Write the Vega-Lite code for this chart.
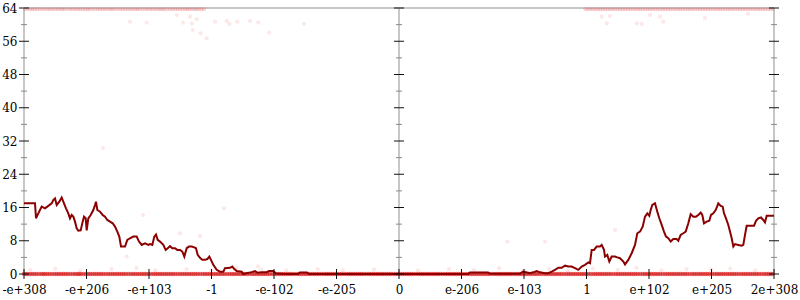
{
"$schema":"https://vega.github.io/schema/vega-lite/v6.json",
"width":750,"height":266,
"autosize":{"type":"none"},
"padding":{"left":24,"top":8,"right":26,"bottom":26},
"background":"white",
"config":{"view":{"stroke":null}},
"datasets":{
"err":[{"x":-6,"y":17},{"x":-5.824,"y":17},{"x":-5.808,"y":13.4},{"x":-5.771,"y":14.6},{"x":-5.717,"y":16.2},{"x":-5.664,"y":15.8},{"x":-5.611,"y":16.4},{"x":-5.557,"y":17},{"x":-5.531,"y":17.8},{"x":-5.504,"y":18.2},{"x":-5.477,"y":16.6},{"x":-5.435,"y":17.4},{"x":-5.397,"y":18.4},{"x":-5.371,"y":17.4},{"x":-5.328,"y":15.8},{"x":-5.291,"y":14.6},{"x":-5.264,"y":13.4},{"x":-5.237,"y":14.2},{"x":-5.211,"y":13.8},{"x":-5.184,"y":12.6},{"x":-5.157,"y":11},{"x":-5.131,"y":10.4},{"x":-5.093,"y":10.5},{"x":-5.061,"y":12.6},{"x":-5.04,"y":13.8},{"x":-5.013,"y":13.4},{"x":-4.997,"y":10.5},{"x":-4.971,"y":13.4},{"x":-4.933,"y":14.2},{"x":-4.891,"y":15.4},{"x":-4.864,"y":16.6},{"x":-4.848,"y":17.4},{"x":-4.827,"y":15.4},{"x":-4.784,"y":15},{"x":-4.741,"y":14.2},{"x":-4.704,"y":13.8},{"x":-4.667,"y":13},{"x":-4.624,"y":12.6},{"x":-4.581,"y":12.2},{"x":-4.544,"y":11.4},{"x":-4.507,"y":10.2},{"x":-4.475,"y":9},{"x":-4.448,"y":6.6},{"x":-4.384,"y":6.6},{"x":-4.347,"y":8.2},{"x":-4.304,"y":8.6},{"x":-4.251,"y":9},{"x":-4.197,"y":9},{"x":-4.16,"y":7.8},{"x":-4.117,"y":7},{"x":-4.064,"y":7.4},{"x":-4.011,"y":7},{"x":-3.984,"y":7.2},{"x":-3.947,"y":7},{"x":-3.915,"y":9},{"x":-3.888,"y":9.5},{"x":-3.861,"y":8.2},{"x":-3.824,"y":7.8},{"x":-3.771,"y":7},{"x":-3.733,"y":5.8},{"x":-3.701,"y":6.2},{"x":-3.664,"y":6.7},{"x":-3.627,"y":6.2},{"x":-3.584,"y":6.2},{"x":-3.547,"y":5.8},{"x":-3.504,"y":5.8},{"x":-3.467,"y":5.4},{"x":-3.435,"y":4.2},{"x":-3.397,"y":6.2},{"x":-3.36,"y":6.6},{"x":-3.317,"y":6.6},{"x":-3.275,"y":6.4},{"x":-3.248,"y":6.2},{"x":-3.221,"y":4.6},{"x":-3.184,"y":3.9},{"x":-3.147,"y":3.4},{"x":-3.104,"y":3.4},{"x":-3.067,"y":3.6},{"x":-3.035,"y":4.2},{"x":-3.008,"y":3.4},{"x":-2.971,"y":2.2},{"x":-2.917,"y":1},{"x":-2.864,"y":0.55},{"x":-2.811,"y":0.55},{"x":-2.784,"y":1.4},{"x":-2.704,"y":1.5},{"x":-2.667,"y":1.8},{"x":-2.635,"y":1.2},{"x":-2.597,"y":0.7},{"x":-2.517,"y":0.55},{"x":-2.491,"y":0},{"x":-2.437,"y":0.2},{"x":-2.357,"y":0.45},{"x":-2.304,"y":0.7},{"x":-2.261,"y":0.3},{"x":-2.197,"y":0.45},{"x":-2.117,"y":0.45},{"x":-2.08,"y":0.7},{"x":-2.011,"y":0.7},{"x":-1.968,"y":0.1},{"x":-1.824,"y":0},{"x":-1.616,"y":0},{"x":-1.584,"y":0.35},{"x":-1.472,"y":0.35},{"x":-1.44,"y":0},{"x":0.016,"y":0},{"x":1.104,"y":0},{"x":1.136,"y":0.35},{"x":1.424,"y":0.35},{"x":1.456,"y":0.05},{"x":1.936,"y":0.05},{"x":1.984,"y":0.6},{"x":2.096,"y":0.2},{"x":2.149,"y":0.4},{"x":2.203,"y":0.7},{"x":2.256,"y":0.4},{"x":2.336,"y":0.2},{"x":2.389,"y":0.2},{"x":2.443,"y":0.55},{"x":2.496,"y":1},{"x":2.549,"y":1.5},{"x":2.603,"y":1.5},{"x":2.656,"y":2},{"x":2.709,"y":1.8},{"x":2.763,"y":1.8},{"x":2.816,"y":1.4},{"x":2.869,"y":1},{"x":2.923,"y":1.8},{"x":2.976,"y":2.2},{"x":3.029,"y":2.8},{"x":3.056,"y":2.6},{"x":3.083,"y":5.8},{"x":3.12,"y":5.8},{"x":3.163,"y":6.6},{"x":3.216,"y":6.6},{"x":3.243,"y":7},{"x":3.28,"y":5.8},{"x":3.296,"y":4.2},{"x":3.333,"y":4.6},{"x":3.365,"y":3},{"x":3.403,"y":4.2},{"x":3.456,"y":4.2},{"x":3.493,"y":4},{"x":3.536,"y":3.8},{"x":3.589,"y":3},{"x":3.616,"y":2.3},{"x":3.669,"y":3.4},{"x":3.723,"y":5},{"x":3.776,"y":7},{"x":3.813,"y":9.8},{"x":3.856,"y":10.2},{"x":3.899,"y":11.4},{"x":3.936,"y":13.8},{"x":3.973,"y":14.6},{"x":4.005,"y":14},{"x":4.027,"y":15.4},{"x":4.053,"y":16.6},{"x":4.096,"y":17},{"x":4.133,"y":15},{"x":4.165,"y":13.4},{"x":4.203,"y":11.8},{"x":4.24,"y":10.2},{"x":4.272,"y":9},{"x":4.309,"y":8.6},{"x":4.347,"y":7.8},{"x":4.389,"y":8.4},{"x":4.443,"y":8.4},{"x":4.469,"y":8},{"x":4.507,"y":9.4},{"x":4.549,"y":9.8},{"x":4.587,"y":10.2},{"x":4.629,"y":12.2},{"x":4.667,"y":14.4},{"x":4.709,"y":13.8},{"x":4.752,"y":13.8},{"x":4.789,"y":14.2},{"x":4.827,"y":14.8},{"x":4.853,"y":14.2},{"x":4.88,"y":12.2},{"x":4.923,"y":12.6},{"x":4.965,"y":12.8},{"x":4.992,"y":14.2},{"x":5.029,"y":14.6},{"x":5.067,"y":15.4},{"x":5.109,"y":17},{"x":5.147,"y":16.4},{"x":5.179,"y":16.2},{"x":5.2,"y":14.6},{"x":5.232,"y":13.4},{"x":5.269,"y":11.8},{"x":5.296,"y":10.2},{"x":5.323,"y":8.6},{"x":5.349,"y":6.6},{"x":5.376,"y":7.2},{"x":5.429,"y":7},{"x":5.483,"y":6.8},{"x":5.509,"y":7},{"x":5.536,"y":9.4},{"x":5.563,"y":11.6},{"x":5.616,"y":11.6},{"x":5.68,"y":11.6},{"x":5.712,"y":12.8},{"x":5.749,"y":13.4},{"x":5.792,"y":13.6},{"x":5.829,"y":13},{"x":5.856,"y":12.4},{"x":5.883,"y":14},{"x":5.936,"y":14},{"x":6,"y":14}],
"zero":[{"x":-6,"y":0},{"x":-5.94,"y":0},{"x":-5.87,"y":0},{"x":-5.8,"y":0},{"x":-5.72,"y":0},{"x":-5.66,"y":0},{"x":-5.59,"y":0},{"x":-5.51,"y":0},{"x":-5.44,"y":0},{"x":-5.37,"y":0},{"x":-5.3,"y":0},{"x":-5.22,"y":0},{"x":-5.15,"y":0},{"x":-5.09,"y":0},{"x":-5.01,"y":0},{"x":-4.94,"y":0},{"x":-4.87,"y":0},{"x":-4.8,"y":0},{"x":-4.73,"y":0},{"x":-4.65,"y":0},{"x":-4.58,"y":0},{"x":-4.51,"y":0},{"x":-4.44,"y":0},{"x":-4.37,"y":0},{"x":-4.29,"y":0},{"x":-4.22,"y":0},{"x":-4.15,"y":0},{"x":-4.08,"y":0},{"x":-4.01,"y":0},{"x":-3.93,"y":0},{"x":-3.86,"y":0},{"x":-3.79,"y":0},{"x":-3.72,"y":0},{"x":-3.65,"y":0},{"x":-3.58,"y":0},{"x":-3.5,"y":0},{"x":-3.43,"y":0},{"x":-3.36,"y":0},{"x":-3.29,"y":0},{"x":-3.22,"y":0},{"x":-3.14,"y":0},{"x":-3.07,"y":0},{"x":-3,"y":0},{"x":-2.93,"y":0},{"x":-2.86,"y":0},{"x":-2.79,"y":0},{"x":-2.71,"y":0},{"x":-2.64,"y":0},{"x":-2.57,"y":0},{"x":-2.5,"y":0},{"x":-2.43,"y":0},{"x":-2.35,"y":0},{"x":-2.28,"y":0},{"x":-2.21,"y":0},{"x":-2.14,"y":0},{"x":-2.07,"y":0},{"x":-1.99,"y":0},{"x":-1.92,"y":0},{"x":-1.85,"y":0},{"x":-1.78,"y":0},{"x":-1.71,"y":0},{"x":-1.63,"y":0},{"x":-1.56,"y":0},{"x":-1.49,"y":0},{"x":-1.42,"y":0},{"x":-1.35,"y":0},{"x":-1.28,"y":0},{"x":-1.2,"y":0},{"x":-1.13,"y":0},{"x":-1.06,"y":0},{"x":-0.99,"y":0},{"x":-0.92,"y":0},{"x":-0.84,"y":0},{"x":-0.77,"y":0},{"x":-0.7,"y":0},{"x":-0.63,"y":0},{"x":-0.56,"y":0},{"x":-0.48,"y":0},{"x":-0.41,"y":0},{"x":-0.34,"y":0},{"x":-0.27,"y":0},{"x":-0.2,"y":0},{"x":-0.13,"y":0},{"x":-0.05,"y":0},{"x":0.02,"y":0},{"x":0.09,"y":0},{"x":0.16,"y":0},{"x":0.23,"y":0},{"x":0.31,"y":0},{"x":0.38,"y":0},{"x":0.45,"y":0},{"x":0.52,"y":0},{"x":0.59,"y":0},{"x":0.66,"y":0},{"x":0.74,"y":0},{"x":0.81,"y":0},{"x":0.88,"y":0},{"x":0.95,"y":0},{"x":1.02,"y":0},{"x":1.1,"y":0},{"x":1.17,"y":0},{"x":1.24,"y":0},{"x":1.31,"y":0},{"x":1.38,"y":0},{"x":1.45,"y":0},{"x":1.53,"y":0},{"x":1.6,"y":0},{"x":1.67,"y":0},{"x":1.74,"y":0},{"x":1.81,"y":0},{"x":1.89,"y":0},{"x":1.96,"y":0},{"x":2.03,"y":0},{"x":2.1,"y":0},{"x":2.17,"y":0},{"x":2.24,"y":0},{"x":2.32,"y":0},{"x":2.39,"y":0},{"x":2.46,"y":0},{"x":2.53,"y":0},{"x":2.6,"y":0},{"x":2.68,"y":0},{"x":2.75,"y":0},{"x":2.82,"y":0},{"x":2.89,"y":0},{"x":2.96,"y":0},{"x":3.03,"y":0},{"x":3.11,"y":0},{"x":3.18,"y":0},{"x":3.25,"y":0},{"x":3.32,"y":0},{"x":3.39,"y":0},{"x":3.47,"y":0},{"x":3.54,"y":0},{"x":3.61,"y":0},{"x":3.68,"y":0},{"x":3.75,"y":0},{"x":3.82,"y":0},{"x":3.9,"y":0},{"x":3.97,"y":0},{"x":4.04,"y":0},{"x":4.11,"y":0},{"x":4.18,"y":0},{"x":4.26,"y":0},{"x":4.33,"y":0},{"x":4.4,"y":0},{"x":4.47,"y":0},{"x":4.54,"y":0},{"x":4.61,"y":0},{"x":4.69,"y":0},{"x":4.76,"y":0},{"x":4.83,"y":0},{"x":4.9,"y":0},{"x":4.97,"y":0},{"x":5.05,"y":0},{"x":5.12,"y":0},{"x":5.19,"y":0},{"x":5.26,"y":0},{"x":5.33,"y":0},{"x":5.4,"y":0},{"x":5.48,"y":0},{"x":5.55,"y":0},{"x":5.62,"y":0},{"x":5.69,"y":0},{"x":5.76,"y":0},{"x":5.84,"y":0},{"x":5.91,"y":0},{"x":5.98,"y":0},
{"x":-5.97,"y":0},{"x":-5.905,"y":0},{"x":-5.835,"y":0},{"x":-5.76,"y":0},{"x":-5.69,"y":0},{"x":-5.625,"y":0},{"x":-5.55,"y":0},{"x":-5.475,"y":0},{"x":-5.405,"y":0},{"x":-5.335,"y":0},{"x":-5.26,"y":0},{"x":-5.185,"y":0},{"x":-5.12,"y":0},{"x":-5.05,"y":0},{"x":-4.975,"y":0},{"x":-4.905,"y":0},{"x":-4.835,"y":0},{"x":-4.765,"y":0},{"x":-4.69,"y":0},{"x":-4.615,"y":0},{"x":-4.545,"y":0},{"x":-4.475,"y":0},{"x":-4.405,"y":0},{"x":-4.33,"y":0},{"x":-4.255,"y":0},{"x":-4.185,"y":0},{"x":-4.115,"y":0},{"x":-4.045,"y":0},{"x":-3.97,"y":0},{"x":-3.895,"y":0},{"x":-3.825,"y":0},{"x":-3.755,"y":0},{"x":-3.685,"y":0},{"x":-3.615,"y":0},{"x":-3.54,"y":0},{"x":-3.465,"y":0},{"x":-3.395,"y":0},{"x":-3.325,"y":0},{"x":-3.255,"y":0},{"x":-3.18,"y":0},{"x":-3.105,"y":0},{"x":-3.035,"y":0},{"x":-2.965,"y":0},{"x":-2.895,"y":0},{"x":-2.825,"y":0},{"x":-2.75,"y":0},{"x":-2.675,"y":0},{"x":-2.605,"y":0},{"x":-2.535,"y":0},{"x":-2.465,"y":0},{"x":-2.39,"y":0},{"x":-2.315,"y":0},{"x":-2.245,"y":0},{"x":-2.175,"y":0},{"x":-2.105,"y":0},{"x":-2.03,"y":0},{"x":-1.955,"y":0},{"x":-1.885,"y":0},{"x":-1.815,"y":0},{"x":-1.745,"y":0},{"x":-1.67,"y":0},{"x":-1.595,"y":0},{"x":-1.525,"y":0},{"x":-1.455,"y":0},{"x":-1.385,"y":0},{"x":-1.315,"y":0},{"x":-1.24,"y":0},{"x":-1.165,"y":0},{"x":-1.095,"y":0},{"x":-1.025,"y":0},{"x":-0.955,"y":0},{"x":-0.88,"y":0},{"x":-0.805,"y":0},{"x":-0.735,"y":0},{"x":-0.665,"y":0},{"x":-0.595,"y":0},{"x":-0.52,"y":0},{"x":-0.445,"y":0},{"x":-0.375,"y":0},{"x":-0.305,"y":0},{"x":-0.235,"y":0},{"x":-0.165,"y":0},{"x":-0.09,"y":0},{"x":-0.015,"y":0},{"x":0.055,"y":0},{"x":0.125,"y":0},{"x":0.195,"y":0},{"x":0.27,"y":0},{"x":0.345,"y":0},{"x":0.415,"y":0},{"x":0.485,"y":0},{"x":0.555,"y":0},{"x":0.625,"y":0},{"x":0.7,"y":0},{"x":0.775,"y":0},{"x":0.845,"y":0},{"x":0.915,"y":0},{"x":0.985,"y":0},{"x":1.06,"y":0},{"x":1.135,"y":0},{"x":1.205,"y":0},{"x":1.275,"y":0},{"x":1.345,"y":0},{"x":1.415,"y":0},{"x":1.49,"y":0},{"x":1.565,"y":0},{"x":1.635,"y":0},{"x":1.705,"y":0},{"x":1.775,"y":0},{"x":1.85,"y":0},{"x":1.925,"y":0},{"x":1.995,"y":0},{"x":2.065,"y":0},{"x":2.135,"y":0},{"x":2.205,"y":0},{"x":2.28,"y":0},{"x":2.355,"y":0},{"x":2.425,"y":0},{"x":2.495,"y":0},{"x":2.565,"y":0},{"x":2.64,"y":0},{"x":2.715,"y":0},{"x":2.785,"y":0},{"x":2.855,"y":0},{"x":2.925,"y":0},{"x":2.995,"y":0},{"x":3.07,"y":0},{"x":3.145,"y":0},{"x":3.215,"y":0},{"x":3.285,"y":0},{"x":3.355,"y":0},{"x":3.43,"y":0},{"x":3.505,"y":0},{"x":3.575,"y":0},{"x":3.645,"y":0},{"x":3.715,"y":0},{"x":3.785,"y":0},{"x":3.86,"y":0},{"x":3.935,"y":0},{"x":4.005,"y":0},{"x":4.075,"y":0},{"x":4.145,"y":0},{"x":4.22,"y":0},{"x":4.295,"y":0},{"x":4.365,"y":0},{"x":4.435,"y":0},{"x":4.505,"y":0},{"x":4.575,"y":0},{"x":4.65,"y":0},{"x":4.725,"y":0},{"x":4.795,"y":0},{"x":4.865,"y":0},{"x":4.935,"y":0},{"x":5.01,"y":0},{"x":5.085,"y":0},{"x":5.155,"y":0},{"x":5.225,"y":0},{"x":5.295,"y":0},{"x":5.365,"y":0},{"x":5.44,"y":0},{"x":5.515,"y":0},{"x":5.585,"y":0},{"x":5.655,"y":0},{"x":5.725,"y":0},{"x":5.8,"y":0},{"x":5.875,"y":0},{"x":5.945,"y":0}],
"top":[{"x":-5.98,"y":63.7},{"x":-5.9,"y":63.7},{"x":-5.83,"y":63.7},{"x":-5.75,"y":63.7},{"x":-5.66,"y":63.7},{"x":-5.58,"y":63.7},{"x":-5.5,"y":63.7},{"x":-5.42,"y":63.7},{"x":-5.35,"y":63.7},{"x":-5.26,"y":63.7},{"x":-5.18,"y":63.7},{"x":-5.1,"y":63.7},{"x":-5.02,"y":63.7},{"x":-4.95,"y":63.7},{"x":-4.86,"y":63.7},{"x":-4.78,"y":63.7},{"x":-4.7,"y":63.7},{"x":-4.62,"y":63.7},{"x":-4.55,"y":63.7},{"x":-4.46,"y":63.7},{"x":-4.38,"y":63.7},{"x":-4.3,"y":63.7},{"x":-4.22,"y":63.7},{"x":-4.15,"y":63.7},{"x":-4.06,"y":63.7},{"x":-3.98,"y":63.7},{"x":-3.9,"y":63.7},{"x":-3.82,"y":63.7},{"x":-3.75,"y":63.7},{"x":-3.66,"y":63.7},{"x":-3.58,"y":63.7},{"x":-3.5,"y":63.7},{"x":-3.42,"y":63.7},{"x":-3.35,"y":63.7},{"x":-3.27,"y":63.7},{"x":-3.2,"y":63.7},{"x":-3.12,"y":63.7},{"x":2.98,"y":63.7},{"x":3.06,"y":63.7},{"x":3.14,"y":63.7},{"x":3.22,"y":63.7},{"x":3.3,"y":63.7},{"x":3.38,"y":63.7},{"x":3.46,"y":63.7},{"x":3.54,"y":63.7},{"x":3.62,"y":63.7},{"x":3.7,"y":63.7},{"x":3.78,"y":63.7},{"x":3.86,"y":63.7},{"x":3.94,"y":63.7},{"x":4.02,"y":63.7},{"x":4.1,"y":63.7},{"x":4.18,"y":63.7},{"x":4.26,"y":63.7},{"x":4.34,"y":63.7},{"x":4.42,"y":63.7},{"x":4.5,"y":63.7},{"x":4.58,"y":63.7},{"x":4.66,"y":63.7},{"x":4.74,"y":63.7},{"x":4.82,"y":63.7},{"x":4.9,"y":63.7},{"x":4.98,"y":63.7},{"x":5.06,"y":63.7},{"x":5.14,"y":63.7},{"x":5.22,"y":63.7},{"x":5.3,"y":63.7},{"x":5.38,"y":63.7},{"x":5.46,"y":63.7},{"x":5.54,"y":63.7},{"x":5.62,"y":63.7},{"x":5.7,"y":63.7},{"x":5.78,"y":63.7},{"x":5.86,"y":63.7},{"x":5.94,"y":63.7},
{"x":-5.94,"y":63.7},{"x":-5.865,"y":63.7},{"x":-5.79,"y":63.7},{"x":-5.705,"y":63.7},{"x":-5.62,"y":63.7},{"x":-5.54,"y":63.7},{"x":-5.46,"y":63.7},{"x":-5.385,"y":63.7},{"x":-5.305,"y":63.7},{"x":-5.22,"y":63.7},{"x":-5.14,"y":63.7},{"x":-5.06,"y":63.7},{"x":-4.985,"y":63.7},{"x":-4.905,"y":63.7},{"x":-4.82,"y":63.7},{"x":-4.74,"y":63.7},{"x":-4.66,"y":63.7},{"x":-4.585,"y":63.7},{"x":-4.505,"y":63.7},{"x":-4.42,"y":63.7},{"x":-4.34,"y":63.7},{"x":-4.26,"y":63.7},{"x":-4.185,"y":63.7},{"x":-4.105,"y":63.7},{"x":-4.02,"y":63.7},{"x":-3.94,"y":63.7},{"x":-3.86,"y":63.7},{"x":-3.785,"y":63.7},{"x":-3.705,"y":63.7},{"x":-3.62,"y":63.7},{"x":-3.54,"y":63.7},{"x":-3.46,"y":63.7},{"x":-3.385,"y":63.7},{"x":-3.31,"y":63.7},{"x":-3.235,"y":63.7},{"x":-3.16,"y":63.7},{"x":3.02,"y":63.7},{"x":3.1,"y":63.7},{"x":3.18,"y":63.7},{"x":3.26,"y":63.7},{"x":3.34,"y":63.7},{"x":3.42,"y":63.7},{"x":3.5,"y":63.7},{"x":3.58,"y":63.7},{"x":3.66,"y":63.7},{"x":3.74,"y":63.7},{"x":3.82,"y":63.7},{"x":3.9,"y":63.7},{"x":3.98,"y":63.7},{"x":4.06,"y":63.7},{"x":4.14,"y":63.7},{"x":4.22,"y":63.7},{"x":4.3,"y":63.7},{"x":4.38,"y":63.7},{"x":4.46,"y":63.7},{"x":4.54,"y":63.7},{"x":4.62,"y":63.7},{"x":4.7,"y":63.7},{"x":4.78,"y":63.7},{"x":4.86,"y":63.7},{"x":4.94,"y":63.7},{"x":5.02,"y":63.7},{"x":5.1,"y":63.7},{"x":5.18,"y":63.7},{"x":5.26,"y":63.7},{"x":5.34,"y":63.7},{"x":5.42,"y":63.7},{"x":5.5,"y":63.7},{"x":5.58,"y":63.7},{"x":5.66,"y":63.7},{"x":5.74,"y":63.7},{"x":5.82,"y":63.7},{"x":5.9,"y":63.7},{"x":5.98,"y":63.7}],
"scatter":[{"x":-4.304,"y":60.7},{"x":-4.037,"y":60.5},{"x":-3.557,"y":62.3},{"x":-3.456,"y":60.5},{"x":-3.344,"y":61.9},{"x":-3.317,"y":60.3},{"x":-3.237,"y":61.3},{"x":-3.301,"y":58.7},{"x":-3.173,"y":57.9},{"x":-3.077,"y":56.7},{"x":-2.944,"y":60.7},{"x":-2.757,"y":60.9},{"x":-2.715,"y":60.2},{"x":-2.587,"y":60.7},{"x":-2.384,"y":60.9},{"x":-2.251,"y":60.5},{"x":-2.075,"y":58.1},{"x":-1.52,"y":60.2},{"x":3.243,"y":61.9},{"x":3.323,"y":60.3},{"x":3.376,"y":62.1},{"x":3.803,"y":60.3},{"x":3.883,"y":60.2},{"x":4.016,"y":62.3},{"x":4.176,"y":61.9},{"x":4.229,"y":60.7},{"x":4.896,"y":61.6},{"x":5.584,"y":62.6},{"x":-4.096,"y":14.2},{"x":-3.504,"y":9.8},{"x":-3.184,"y":9.1},{"x":-4.357,"y":4.2},{"x":-2.8,"y":15.8},{"x":-2.256,"y":1.8},{"x":2.336,"y":7.8},{"x":3.456,"y":10.6},{"x":1.733,"y":7.8},{"x":-4.736,"y":30.3},{"x":-5.9,"y":1},{"x":-5.5,"y":1.3},{"x":-5.1,"y":0.8},{"x":-4.6,"y":1.2},{"x":-4.2,"y":1.5},{"x":-3.9,"y":0.9},{"x":-3.4,"y":1.2},{"x":-3,"y":0.8},{"x":-2.6,"y":1.4},{"x":-2.2,"y":1},{"x":-1.8,"y":0.8},{"x":-1.3,"y":1.2},{"x":-0.9,"y":0.9},{"x":-0.4,"y":1.1},{"x":0.3,"y":0.8},{"x":0.8,"y":1.2},{"x":1.2,"y":1},{"x":1.6,"y":1.4},{"x":2,"y":0.9},{"x":2.4,"y":1.2},{"x":2.7,"y":0.8},{"x":3.1,"y":1.3},{"x":3.5,"y":1},{"x":3.8,"y":1.5},{"x":4.2,"y":0.9},{"x":4.6,"y":1.2},{"x":5,"y":1},{"x":5.3,"y":1.3},{"x":5.7,"y":0.9}],
"frameV":[{"x":-6,"y":0,"y2":64},{"x":0,"y":0,"y2":64},{"x":6,"y":0,"y2":64}],
"frameH":[{"x":-6,"x2":6,"y":0},{"x":-6,"x2":6,"y":64}],
"majorT":[{"x":-6,"y":0},{"x":-6,"y":8},{"x":-6,"y":16},{"x":-6,"y":24},{"x":-6,"y":32},{"x":-6,"y":40},{"x":-6,"y":48},{"x":-6,"y":56},{"x":-6,"y":64},{"x":0,"y":0},{"x":0,"y":8},{"x":0,"y":16},{"x":0,"y":24},{"x":0,"y":32},{"x":0,"y":40},{"x":0,"y":48},{"x":0,"y":56},{"x":0,"y":64},{"x":6,"y":0},{"x":6,"y":8},{"x":6,"y":16},{"x":6,"y":24},{"x":6,"y":32},{"x":6,"y":40},{"x":6,"y":48},{"x":6,"y":56},{"x":6,"y":64}],
"minorT":[{"x":-6,"y":4},{"x":-6,"y":12},{"x":-6,"y":20},{"x":-6,"y":28},{"x":-6,"y":36},{"x":-6,"y":44},{"x":-6,"y":52},{"x":-6,"y":60},{"x":0,"y":4},{"x":0,"y":12},{"x":0,"y":20},{"x":0,"y":28},{"x":0,"y":36},{"x":0,"y":44},{"x":0,"y":52},{"x":0,"y":60},{"x":6,"y":4},{"x":6,"y":12},{"x":6,"y":20},{"x":6,"y":28},{"x":6,"y":36},{"x":6,"y":44},{"x":6,"y":52},{"x":6,"y":60}],
"xT":[{"x":-6,"y":0},{"x":-5,"y":0},{"x":-4,"y":0},{"x":-3,"y":0},{"x":-2,"y":0},{"x":-1,"y":0},{"x":0,"y":0},{"x":1,"y":0},{"x":2,"y":0},{"x":3,"y":0},{"x":4,"y":0},{"x":5,"y":0},{"x":6,"y":0}]
},
"encoding":{
 "x":{"field":"x","type":"quantitative","scale":{"domain":[-6,6],"nice":false,"zero":false},"axis":{"title":null,"grid":false,"domain":false,"ticks":false,"labels":true,"labelFont":"DejaVu Serif","labelFontSize":12,"labelColor":"#000","values":[-6,-5,-4,-3,-2,-1,0,1,2,3,4,5,6],"labelExpr":"['-e+308','-e+206','-e+103','-1','-e-102','-e-205','0','e-206','e-103','1','e+102','e+205','2e+308'][datum.value+6]","labelPadding":10,"labelFlush":false,"labelOverlap":false}},
 "y":{"field":"y","type":"quantitative","scale":{"domain":[0,64],"nice":false,"zero":false},"axis":{"title":null,"grid":false,"domain":false,"ticks":false,"labels":true,"labelFont":"DejaVu Serif","labelFontSize":12,"labelColor":"#000","values":[0,8,16,24,32,40,48,56,64],"labelPadding":7,"labelOverlap":false}}
},
"layer":[
{"data":{"name":"frameV"},"mark":{"type":"rule","color":"#b4b4b4","strokeWidth":1.5},"encoding":{"y2":{"field":"y2"}}},
{"data":{"name":"frameH"},"mark":{"type":"rule","color":"#b4b4b4","strokeWidth":1.5},"encoding":{"x2":{"field":"x2"}}},
{"data":{"name":"zero"},"mark":{"type":"circle","size":20,"opacity":0.55,"color":"#dd1111"}},
{"data":{"name":"top"},"mark":{"type":"circle","size":16,"opacity":0.2,"color":"#e83030"}},
{"data":{"name":"scatter"},"mark":{"type":"circle","size":18,"opacity":0.1,"color":"#ee2222"}},
{"data":{"name":"err"},"mark":{"type":"line","color":"#8b0000","strokeWidth":2}},
{"data":{"name":"majorT"},"mark":{"type":"tick","orient":"horizontal","size":10,"thickness":1,"color":"#111","opacity":1}},
{"data":{"name":"minorT"},"mark":{"type":"tick","orient":"horizontal","size":6,"thickness":1,"color":"#888","opacity":1}},
{"data":{"name":"xT"},"mark":{"type":"tick","orient":"vertical","size":10,"thickness":1,"color":"#111","opacity":1}}
]
}
